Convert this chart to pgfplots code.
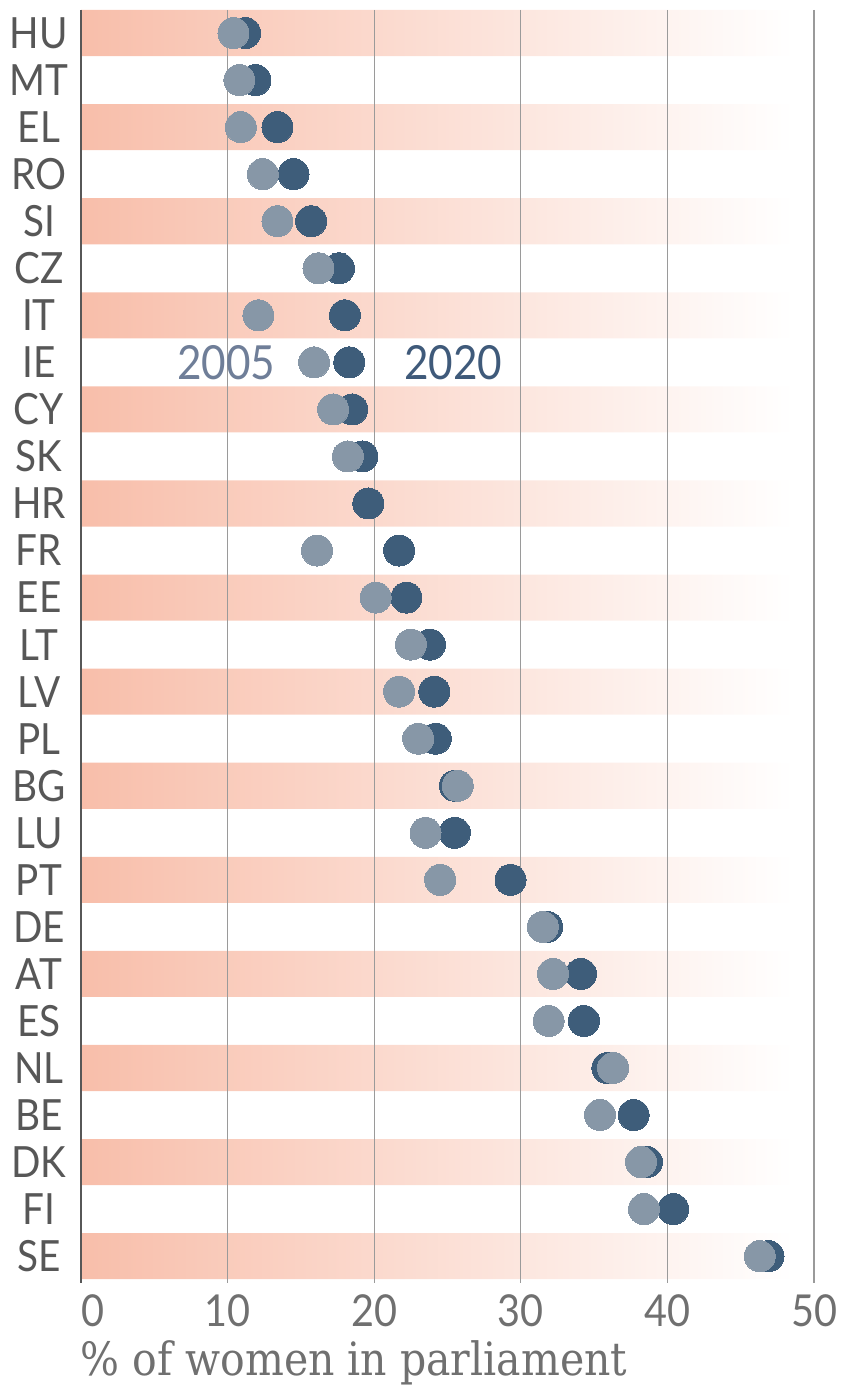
\documentclass[border=0pt]{standalone}
\usepackage{pgfplots}
\pgfplotsset{compat=1.18}
\usepackage{fontspec}
\setmainfont{Lato}
\newfontfamily\lbl[FakeStretch=0.9]{Lato}
\newfontfamily\serifl{DejaVu Serif}
\definecolor{bandc}{HTML}{F8BEAA}
\definecolor{c05}{HTML}{8797A7}
\definecolor{c20}{HTML}{3E5D7A}
\definecolor{t05}{HTML}{6F7E98}
\definecolor{t20}{HTML}{3F5A7A}
\definecolor{labc}{HTML}{575757}
\definecolor{tickc}{HTML}{707070}
\definecolor{gridc}{HTML}{9A9A9A}
\begin{document}
\begin{tikzpicture}
\begin{axis}[
  set layers,
  scale only axis,
  width=733bp, height=1273bp,
  xmin=0, xmax=50,
  ymin=-0.49, ymax=26.57,
  y dir=reverse,
  xtick={0,10,20,30,40,50},
  xticklabels={\makebox[0pt][l]{0},10,20,30,40,50},
  ytick={0,...,26},
  yticklabels={HU,MT,EL,RO,SI,CZ,IT,IE,CY,SK,HR,FR,EE,LT,LV,PL,BG,LU,PT,DE,AT,ES,NL,BE,DK,FI,SE},
  major tick length=0pt,
  xmajorgrids,
  grid style={gridc, line width=1.2bp},
  axis x line*=bottom,
  axis y line*=left,
  x axis line style={draw=none},
  y axis line style={draw=labc, line width=2bp},
  yticklabel style={anchor=center, xshift=-42bp, font=\lbl\fontsize{43bp}{50bp}\selectfont, text=labc},
  xticklabel style={anchor=north, yshift=-8bp, font=\lbl\fontsize{44bp}{50bp}\selectfont, text=tickc},
  xlabel={\scalebox{1}[1.12]{\% of women in parliament}},
  xlabel style={at={(axis description cs:0,0)}, anchor=north west, yshift=-54bp, xshift=-4bp, font=\serifl\fontsize{41bp}{48bp}\selectfont, text=tickc},
  clip=false,
]
\addplot[on layer=axis background, xbar, draw=none, bar width=0.98, left color=bandc, right color=white]
  coordinates {(48.6,0) (48.6,2) (48.6,4) (48.6,6) (48.6,8) (48.6,10) (48.6,12) (48.6,14) (48.6,16) (48.6,18) (48.6,20) (48.6,22) (48.6,24) (48.6,26)};
% 2020
\addplot[only marks, color=c20, mark=*, mark size=15.5bp, mark options={fill=c20, draw=c20, line width=0pt}]
  coordinates {(11.2,0) (11.9,1) (13.4,2) (14.5,3) (15.7,4) (17.6,5) (18.0,6) (18.3,7) (18.5,8) (19.2,9) (19.6,10) (21.7,11) (22.2,12) (23.8,13) (24.1,14) (24.2,15) (25.5,16) (25.5,17) (29.3,18) (31.8,19) (34.1,20) (34.3,21) (35.9,22) (37.7,23) (38.6,24) (40.4,25) (46.9,26)};
% 2005
\addplot[only marks, color=c05, mark=*, mark size=15.5bp, mark options={fill=c05, draw=c05, line width=0pt}]
  coordinates {(10.4,0) (10.8,1) (10.9,2) (12.4,3) (13.4,4) (16.2,5) (12.1,6) (15.9,7) (17.2,8) (18.2,9) (16.1,11) (20.1,12) (22.5,13) (21.7,14) (23.0,15) (25.7,16) (23.5,17) (24.5,18) (31.5,19) (32.2,20) (31.9,21) (36.3,22) (35.4,23) (38.2,24) (38.4,25) (46.3,26)};
\node[font=\lbl\fontsize{47bp}{52bp}\selectfont, text=t05] at (axis cs:9.9,7) {2005};
\node[font=\lbl\fontsize{47bp}{52bp}\selectfont, text=t20] at (axis cs:25.4,7) {2020};
\end{axis}
\pgfresetboundingbox
\path[use as bounding box] (-81bp,-104bp) rectangle (768bp,1283bp);
\end{tikzpicture}
\end{document}
